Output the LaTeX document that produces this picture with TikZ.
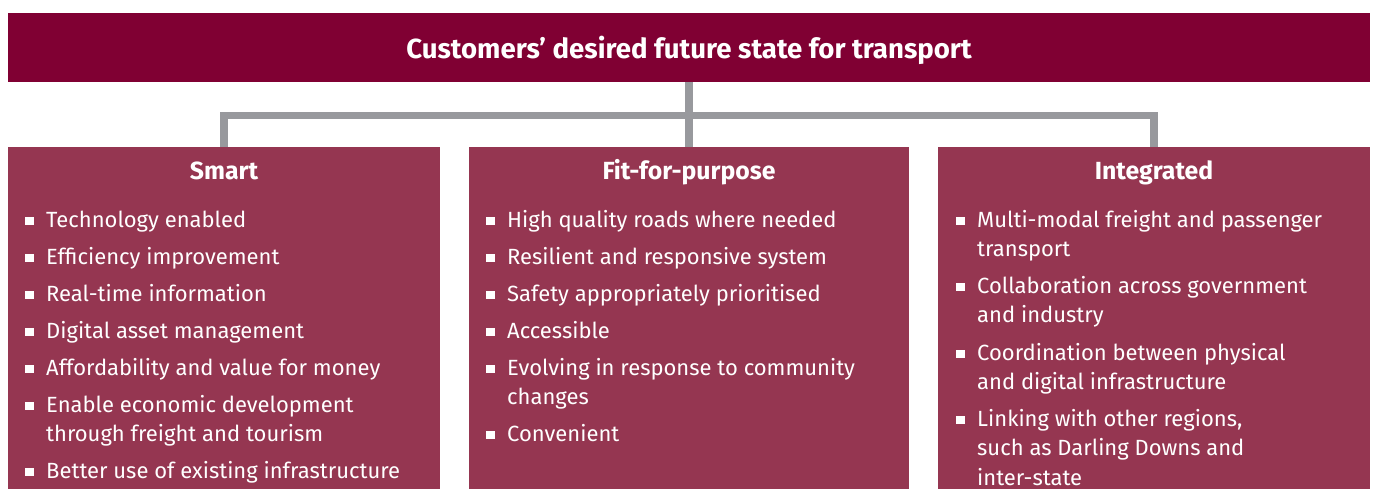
\documentclass[tikz,border=0pt]{standalone}
\usepackage{fontspec}
\setmainfont{Fira Sans}
\definecolor{banner}{RGB}{128,0,51}
\definecolor{boxc}{RGB}{149,54,81}
\definecolor{conn}{RGB}{152,153,157}
\tikzset{
  boxnode/.style={fill=boxc, draw=none, anchor=north west, minimum width=#1, minimum height=342pt, inner sep=0pt},
  conline/.style={draw=conn, line width=7.5pt},
  itemtext/.style={anchor=base west, inner sep=0pt, align=left, text=white, font=\fontsize{22}{29.5}\selectfont},
  bul/.style={fill=white, draw=none, minimum size=8.5pt, inner sep=0pt, anchor=center},
  heading/.style={anchor=base, inner sep=0pt, text=white, font=\fontsize{24.8}{29}\selectfont\bfseries},
}
\begin{document}
\begin{tikzpicture}[x=1pt,y=1pt]
\useasboundingbox (0,0) rectangle (1375,-489);
% banner
\node[fill=banner, anchor=north west, minimum width=1362pt, minimum height=69pt, inner sep=0pt] (title) at (8,-13) {};
\node[anchor=base, inner sep=0pt, text=white, font=\fontsize{27.6}{33}\selectfont\bfseries] (titletext) at (689,-58.5) {Customers’ desired future state for transport};
% boxes
\node[boxnode=432pt] (smart) at (8,-147) {};
\node[boxnode=440pt] (fit) at (469,-147) {};
\node[boxnode=432pt] (integ) at (938,-147) {};
% connectors
\coordinate (j) at (689,-115.5);
\draw[conline] (title.south) -- (fit.north);
\draw[conline] (smart.north) |- (j) -| (integ.north);
% headings
\node[heading] (hs) at (224,-180) {Smart};
\node[heading] (hf) at (689,-180) {Fit-for-purpose};
\node[heading] (hi) at (1154,-180) {Integrated};
% Smart items (multi-line nodes are placed by the baseline of their last line)
\node[bul] (sb1) at (29.5,-221) {}; \node[itemtext] (s1) at (46,-227) {Technology enabled};
\node[bul] (sb2) at (29.5,-258) {}; \node[itemtext] (s2) at (46,-264) {Efficiency improvement};
\node[bul] (sb3) at (29.5,-295) {}; \node[itemtext] (s3) at (46,-301) {Real-time information};
\node[bul] (sb4) at (29.5,-332) {}; \node[itemtext] (s4) at (46,-338) {Digital asset management};
\node[bul] (sb5) at (29.5,-369) {}; \node[itemtext] (s5) at (46,-375) {Affordability and value for money};
\node[bul] (sb6) at (29.5,-406) {}; \node[itemtext] (s6) at (46,-441.5) {Enable economic development\\through freight and tourism};
\node[bul] (sb7) at (29.5,-472) {}; \node[itemtext] (s7) at (46,-478) {Better use of existing infrastructure};
% Fit-for-purpose items
\node[bul] (fb1) at (490.5,-221) {}; \node[itemtext] (f1) at (507,-227) {High quality roads where needed};
\node[bul] (fb2) at (490.5,-258) {}; \node[itemtext] (f2) at (507,-264) {Resilient and responsive system};
\node[bul] (fb3) at (490.5,-295) {}; \node[itemtext] (f3) at (507,-301) {Safety appropriately prioritised};
\node[bul] (fb4) at (490.5,-332) {}; \node[itemtext] (f4) at (507,-338) {Accessible};
\node[bul] (fb5) at (490.5,-369) {}; \node[itemtext] (f5) at (507,-404.5) {Evolving in response to community\\changes};
\node[bul] (fb6) at (490.5,-435) {}; \node[itemtext] (f6) at (507,-441) {Convenient};
% Integrated items
\node[bul] (ib1) at (960.5,-221) {}; \node[itemtext] (i1) at (977,-256.5) {Multi-modal freight and passenger\\transport};
\node[bul] (ib2) at (960.5,-287) {}; \node[itemtext] (i2) at (977,-322.5) {Collaboration across government\\and industry};
\node[bul] (ib3) at (960.5,-354) {}; \node[itemtext] (i3) at (977,-389.5) {Coordination between physical\\and digital infrastructure};
\node[bul] (ib4) at (960.5,-420) {}; \node[itemtext] (i4) at (977,-485) {Linking with other regions,\\such as Darling Downs and\\inter-state};
\end{tikzpicture}
\end{document}
